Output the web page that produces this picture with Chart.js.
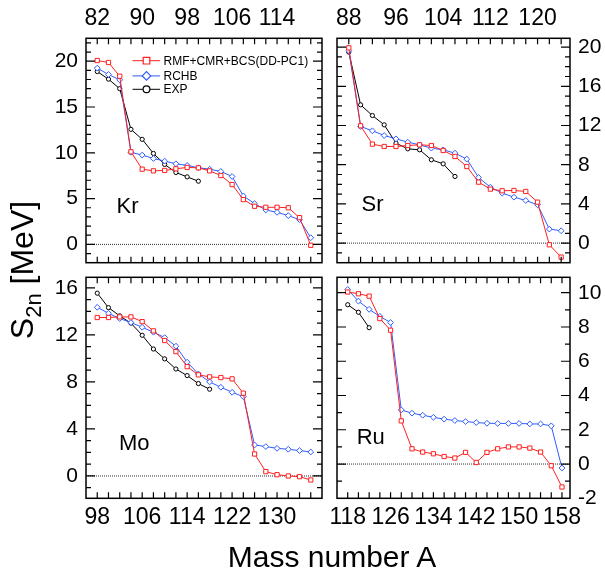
<!DOCTYPE html>
<html><head><meta charset="utf-8">
<script src="https://cdn.jsdelivr.net/npm/chart.js@4.4.1/dist/chart.umd.min.js"></script>
<style>
html,body{margin:0;padding:0;background:#fff;}
#wrap{position:relative;width:605px;height:577px;overflow:hidden;font-family:"Liberation Sans",Arial,sans-serif;}
canvas{position:absolute;left:0;top:0;}
.t{position:absolute;color:#000;white-space:nowrap;}
#ytitle{font-size:32px;line-height:32px;width:240px;text-align:center;left:-98px;top:254px;transform:rotate(-90deg);}
#ytitle sub{font-size:22px;vertical-align:-8px;line-height:0;}
#xtitle{font-size:30px;line-height:30px;width:300px;text-align:center;left:182px;top:542px;}
</style></head><body><div id="wrap">
<canvas id="kr" width="605" height="577"></canvas>
<canvas id="sr" width="605" height="577"></canvas>
<canvas id="mo" width="605" height="577"></canvas>
<canvas id="ru" width="605" height="577"></canvas>
<div class="t" id="ytitle">S<sub>2n</sub> [MeV]</div>
<div class="t" id="xtitle">Mass number A</div>
</div>
<script>
// ---------------- data ----------------
const krA    = [82,84,86,88,90,92,94,96,98,100,102,104,106,108,110,112,114,116,118,120];
const krRMF  = [20.07,19.86,18.36,10.11,8.21,8.03,8.07,8.25,8.40,8.36,8.03,7.52,6.53,4.89,4.16,4.05,4.05,4.00,2.92,-0.10];
const krRCHB = [19.24,18.55,17.96,10.05,9.75,9.38,9.09,8.80,8.62,8.36,8.21,7.96,7.41,5.29,4.45,3.76,3.50,3.14,2.70,0.73];
const krExpA = [82,84,86,88,90,92,94,96,98,100];
const krEXP  = [18.87,18.04,17.00,12.56,11.47,9.93,8.73,7.85,7.37,6.90];

const srA    = [88,90,92,94,96,98,100,102,104,106,108,110,112,114,116,118,120,122,124];
const srRMF  = [19.93,11.97,10.10,9.86,9.86,9.96,10.03,9.96,9.45,8.84,7.82,6.22,5.51,5.34,5.37,5.27,4.18,-0.17,-1.43];
const srRCHB = [19.65,11.90,11.46,10.98,10.64,10.30,10.03,9.69,9.52,9.18,8.57,6.69,5.71,5.10,4.69,4.35,3.91,1.43,1.26];
const srExpA = [88,90,92,94,96,98,100,102,104,106];
const srEXP  = [19.49,14.11,13.02,12.07,10.20,9.62,9.52,8.50,8.09,6.80];

const moA    = [98,100,102,104,106,108,110,112,114,116,118,120,122,124,126,128,130,132,134,136];
const moRMF  = [13.48,13.48,13.53,13.53,13.13,12.34,11.52,10.58,9.30,8.60,8.43,8.37,8.26,7.04,1.87,0.37,0.11,0.00,-0.06,-0.34];
const moRCHB = [14.35,13.84,13.39,13.05,12.65,12.23,11.77,11.04,9.68,8.68,8.00,7.55,7.12,6.75,2.64,2.50,2.35,2.27,2.16,2.04];
const moExpA = [98,100,102,104,106,108,110,112,114,116,118];
const moEXP  = [15.55,14.32,13.62,13.00,11.97,10.80,9.96,9.10,8.54,7.86,7.38];

const ruA    = [118,120,122,124,126,128,130,132,134,136,138,140,142,144,146,148,150,152,154,156,158];
const ruRMF  = [10.04,9.94,9.80,8.49,7.81,2.52,0.89,0.70,0.60,0.44,0.35,0.68,0.09,0.68,0.89,1.00,1.00,0.93,0.70,-0.10,-1.34];
const ruRCHB = [10.19,9.51,9.03,8.62,8.26,3.16,2.97,2.85,2.73,2.62,2.54,2.48,2.42,2.38,2.37,2.37,2.37,2.34,2.34,2.23,-0.23];
const ruExpA = [118,120,122];
const ruEXP  = [9.30,8.86,7.96];

// tick labels
const krXLabels = [82,90,98,106,114];
const srXLabels = [88,96,104,112,120];
const moXLabels = [98,106,114,122,130];
const ruXLabels = [118,126,134,142,150,158];
const krYLabels = [0,5,10,15,20];
const srYLabels = [0,4,8,12,16,20];
const moYLabels = [0,4,8,12,16];
const ruYLabels = [-2,0,2,4,6,8,10];

const seriesNames = ['RMF+CMR+BCS(DD-PC1)','RCHB','EXP'];
// --------------------------------------

const FONT = '"Liberation Sans", Arial, sans-serif';
const RED = '#ff2020', BLUE = '#2f5cff', BLK = '#000000';
const W = 605, H = 577;

function pts(xs, ys){ return xs.map((x,i)=>({x:x, y:ys[i]})); }

function framePlugin(p){
  return {
    id:'frame',
    afterDatasetsDraw(chart){
      const ctx = chart.ctx, ca = chart.chartArea, xs = chart.scales.x, ys = chart.scales.y;
      ctx.save();
      ctx.strokeStyle = '#000';
      ctx.lineWidth = 1.2;
      ctx.beginPath();
      let s = p.xLabels[0];
      while (s - 2 >= p.xMin) s -= 2;
      for (let v = s; v <= p.xMax + 1e-9; v += 2){
        const px = xs.getPixelForValue(v);
        if (px <= ca.left + 1 || px >= ca.right - 1) continue;
        ctx.moveTo(px, ca.top); ctx.lineTo(px, ca.top + 6);
        ctx.moveTo(px, ca.bottom); ctx.lineTo(px, ca.bottom - 6);
      }
      for (let v = Math.ceil(p.yMin); v <= p.yMax + 1e-9; v += 1){
        const py = ys.getPixelForValue(v);
        if (py <= ca.top + 1 || py >= ca.bottom - 1) continue;
        const len = p.yLabels.indexOf(v) >= 0 ? 9 : 5;
        ctx.moveTo(ca.left, py); ctx.lineTo(ca.left + len, py);
        ctx.moveTo(ca.right, py); ctx.lineTo(ca.right - len, py);
      }
      ctx.stroke();
      ctx.lineWidth = 1.5;
      ctx.strokeRect(ca.left, ca.top, ca.right - ca.left, ca.bottom - ca.top);
      ctx.fillStyle = '#000';
      ctx.font = '22px ' + FONT;
      ctx.textAlign = 'left'; ctx.textBaseline = 'alphabetic';
      ctx.fillText(p.name, ca.left + p.nameDx, ca.top + p.nameDy);
      if (p.legend){
        const lx0 = ca.left + 46.5, lx1 = ca.left + 74, mx = ca.left + 60.5, tx = ca.left + 77.5;
        const rows = [
          {y: ca.top + 22.4, c: RED, shape:'sq'},
          {y: ca.top + 37.6, c: BLUE, shape:'di'},
          {y: ca.top + 51.0, c: BLK, shape:'ci'}
        ];
        ctx.font = '12px ' + FONT;
        ctx.textBaseline = 'middle';
        rows.forEach((r,i)=>{
          ctx.strokeStyle = r.c; ctx.lineWidth = 1;
          ctx.beginPath(); ctx.moveTo(lx0, r.y); ctx.lineTo(lx1, r.y); ctx.stroke();
          ctx.fillStyle = '#fff'; ctx.lineWidth = 1.2;
          ctx.beginPath();
          if (r.shape === 'sq') ctx.rect(mx - 3.3, r.y - 3.3, 6.6, 6.6);
          else if (r.shape === 'di'){ ctx.moveTo(mx - 4.2, r.y); ctx.lineTo(mx, r.y - 4.2); ctx.lineTo(mx + 4.2, r.y); ctx.lineTo(mx, r.y + 4.2); ctx.closePath(); }
          else ctx.arc(mx, r.y, 3.4, 0, Math.PI*2);
          ctx.fill(); ctx.stroke();
          ctx.fillStyle = '#000';
          ctx.fillText(seriesNames[i], tx, r.y + 0.5);
        });
      }
      ctx.restore();
    }
  };
}

function panel(id, p){
  const a = p.area;
  const xAxisH = p.xPos === 'top' ? a.t : H - a.b;
  const yAxisW = p.yPos === 'left' ? a.l : W - a.r;
  const padding = {
    left: p.yPos === 'left' ? 0 : a.l,
    right: p.yPos === 'left' ? W - a.r : 0,
    top: p.xPos === 'top' ? 0 : a.t,
    bottom: p.xPos === 'top' ? H - a.b : 0
  };
  const ds = (label, xs, ys, color, style, r, order) => ({
    label, data: pts(xs, ys), borderColor: color, borderWidth: 1,
    pointStyle: style, pointRadius: r, pointBorderColor: color, pointBackgroundColor: '#fff',
    pointBorderWidth: 1, pointHoverRadius: r, order, tension: 0, fill: false
  });
  new Chart(document.getElementById(id), {
    type: 'line',
    data: { datasets: [
      ds(seriesNames[0], p.A, p.rmf, RED, 'rect', 3.0, 1),
      ds(seriesNames[1], p.A, p.rchb, BLUE, 'rectRot', 2.9, 2),
      ds(seriesNames[2], p.expA, p.exp, BLK, 'circle', 2.1, 3),
      { label: 'zero', data: [{x:p.xMin, y:0},{x:p.xMax, y:0}], borderColor: '#333', borderWidth: 1,
        borderDash: [1,1], pointRadius: 0, order: 4, tension: 0, fill: false }
    ]},
    options: {
      responsive: false, animation: false, devicePixelRatio: 1,
      layout: { padding },
      events: [],
      plugins: { legend: { display: false }, tooltip: { enabled: false } },
      scales: {
        x: {
          type: 'linear', position: p.xPos, min: p.xMin, max: p.xMax,
          grid: { display: false, drawTicks: false }, border: { display: false },
          afterBuildTicks: s => { s.ticks = p.xLabels.map(v => ({value: v})); },
          afterFit: s => { s.height = xAxisH; },
          ticks: { autoSkip: false, maxRotation: 0, minRotation: 0, padding: 6, color: '#000',
                   font: { family: FONT, size: 23 }, callback: v => String(v) }
        },
        y: {
          type: 'linear', position: p.yPos, min: p.yMin, max: p.yMax,
          grid: { display: false, drawTicks: false }, border: { display: false },
          afterBuildTicks: s => { s.ticks = p.yLabels.map(v => ({value: v})); },
          afterFit: s => { s.width = yAxisW; },
          ticks: { autoSkip: false, padding: 8, color: '#000',
                   font: { family: FONT, size: 21 }, callback: v => String(v) }
        }
      }
    },
    plugins: [framePlugin(p)]
  });
}

panel('kr', { name:'Kr', area:{l:86,t:38.3,r:322,b:262.7}, xPos:'top', yPos:'left',
  xMin:80, xMax:122, yMin:-2, yMax:22.5, xLabels:krXLabels, yLabels:krYLabels,
  A:krA, rmf:krRMF, rchb:krRCHB, expA:krExpA, exp:krEXP, nameDx:30.5, nameDy:174.4, legend:true });
panel('sr', { name:'Sr', area:{l:337,t:38.3,r:570,b:262.7}, xPos:'top', yPos:'right',
  xMin:86, xMax:125.5, yMin:-2, yMax:20.9, xLabels:srXLabels, yLabels:srYLabels,
  A:srA, rmf:srRMF, rchb:srRCHB, expA:srExpA, exp:srEXP, nameDx:24.5, nameDy:172.7 });
panel('mo', { name:'Mo', area:{l:86,t:277.3,r:322,b:498.3}, xPos:'bottom', yPos:'left',
  xMin:96, xMax:138, yMin:-1.9, yMax:16.9, xLabels:moXLabels, yLabels:moYLabels,
  A:moA, rmf:moRMF, rchb:moRCHB, expA:moExpA, exp:moEXP, nameDx:33, nameDy:172.7 });
panel('ru', { name:'Ru', area:{l:337,t:277.3,r:570,b:498.3}, xPos:'bottom', yPos:'right',
  xMin:116, xMax:159.5, yMin:-2, yMax:10.9, xLabels:ruXLabels, yLabels:ruYLabels,
  A:ruA, rmf:ruRMF, rchb:ruRCHB, expA:ruExpA, exp:ruEXP, nameDx:19.7, nameDy:166.7 });
</script></body></html>
